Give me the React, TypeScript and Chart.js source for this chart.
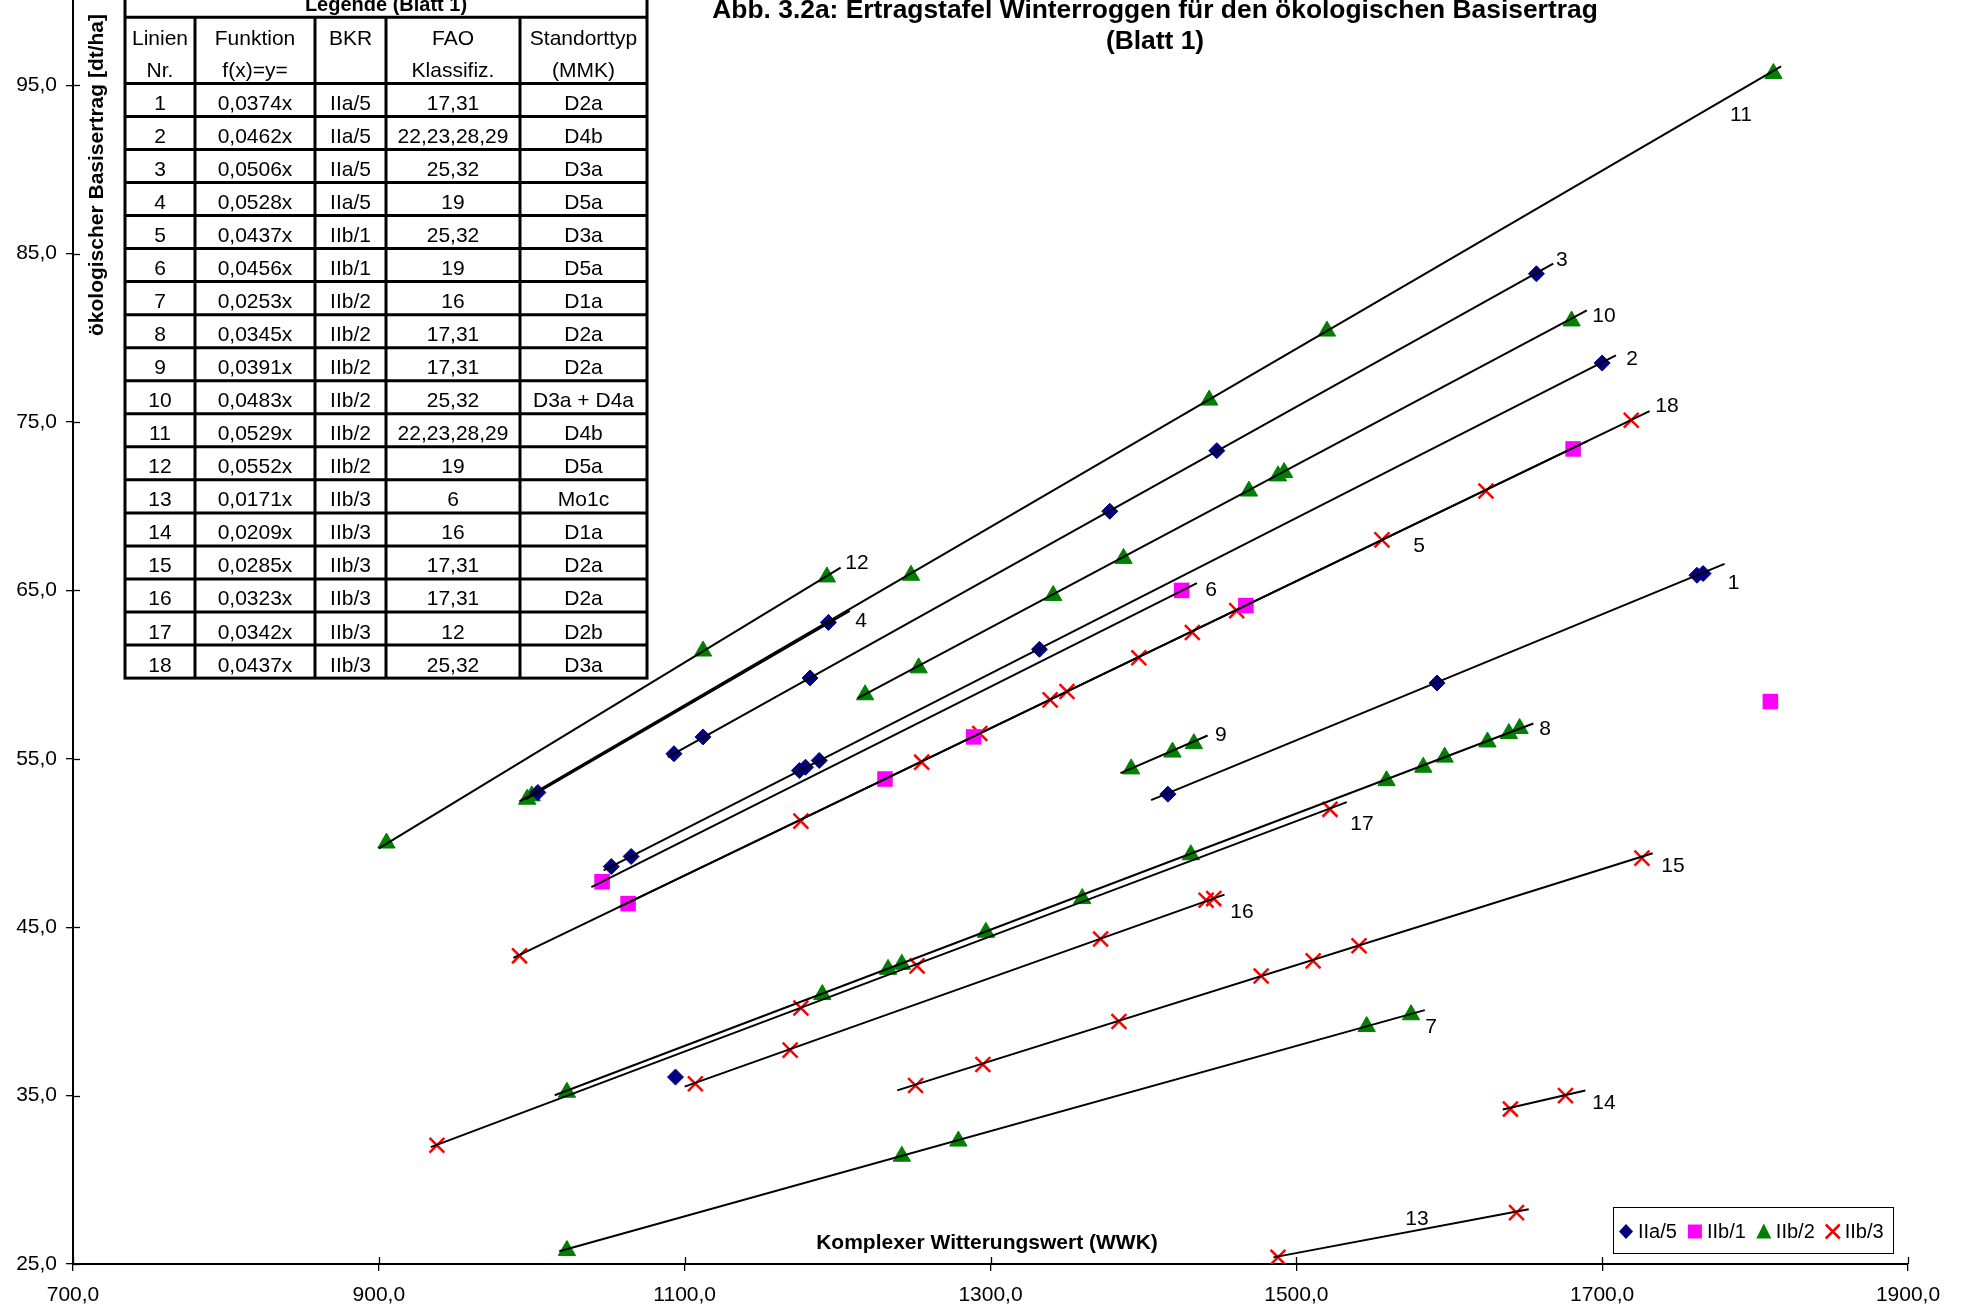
import React, { useEffect, useRef } from 'react';
import { Chart, registerables } from 'chart.js';

Chart.register(...registerables);

const FONT = "'Liberation Sans', Arial, Helvetica, sans-serif";

// ---------- texts ----------
const titleLine1 = 'Abb. 3.2a: Ertragstafel Winterroggen für den ökologischen Basisertrag';
const titleLine2 = '(Blatt 1)';
const xAxisTitle = 'Komplexer Witterungswert (WWK)';
const yAxisTitle = 'ökologischer Basisertrag [dt/ha]';
const tableTitle = 'Legende (Blatt 1)';

// ---------- axes ----------
const xTicks = [700, 900, 1100, 1300, 1500, 1700, 1900];
const yTicks = [25, 35, 45, 55, 65, 75, 85, 95];

// ---------- series (points) ----------
const seriesNames = ['IIa/5', 'IIb/1', 'IIb/2', 'IIb/3'];

const iia5X = [1004, 1194, 1093, 1112, 1182, 1378, 1448, 1657, 1052, 1065, 1175, 1179, 1188, 1332, 1700, 1416, 1592, 1762, 1766, 1094];
const iia5Y = [53.0, 63.1, 55.3, 56.3, 59.8, 69.7, 73.3, 83.8, 48.6, 49.2, 54.3, 54.5, 54.9, 61.5, 78.5, 52.9, 59.5, 65.9, 66.0, 36.1];

const iib1X = [1046, 1425, 1063, 1231, 1289, 1467, 1681, 1810];
const iib1Y = [47.7, 65.0, 46.4, 53.8, 56.3, 64.1, 73.4, 58.4];

const iib2X = [905, 1112, 1193, 997, 1000, 1248, 1443, 1520, 1812, 1218, 1253, 1341, 1387, 1469, 1488, 1492, 1680, 1392, 1419, 1433, 1023, 1190, 1233, 1242, 1297, 1360, 1431, 1559, 1583, 1597, 1625, 1639, 1646, 1023, 1242, 1279, 1546, 1575];
const iib2Y = [50.0, 61.4, 65.8, 52.6, 52.8, 65.9, 76.3, 80.4, 95.7, 58.8, 60.4, 64.7, 66.9, 70.9, 71.8, 72.0, 81.0, 54.4, 55.4, 55.9, 35.2, 41.0, 42.5, 42.8, 44.7, 46.7, 49.3, 53.7, 54.5, 55.1, 56.0, 56.5, 56.8, 25.8, 31.4, 32.3, 39.1, 39.8];

const iib3X = [992, 1176, 1255, 1293, 1339, 1350, 1397, 1432, 1461, 1556, 1624, 1719, 938, 1176, 1252, 1522, 1107, 1169, 1372, 1441, 1446, 1251, 1295, 1384, 1477, 1511, 1541, 1726, 1640, 1676, 1488, 1644];
const iib3Y = [43.3, 51.3, 54.8, 56.5, 58.5, 59.0, 61.0, 62.5, 63.8, 68.0, 70.9, 75.1, 32.05, 40.2, 42.7, 52.0, 35.7, 37.7, 44.3, 46.6, 46.7, 35.6, 36.85, 39.4, 42.1, 43.0, 43.9, 49.1, 34.2, 35.0, 25.4, 28.05];

// ---------- legend table / regression lines ----------
const lineNr = ['1', '2', '3', '4', '5', '6', '7', '8', '9', '10', '11', '12', '13', '14', '15', '16', '17', '18'];
const lineFunction = ['0,0374x', '0,0462x', '0,0506x', '0,0528x', '0,0437x', '0,0456x', '0,0253x', '0,0345x', '0,0391x', '0,0483x', '0,0529x', '0,0552x', '0,0171x', '0,0209x', '0,0285x', '0,0323x', '0,0342x', '0,0437x'];
const lineBKR = ['IIa/5', 'IIa/5', 'IIa/5', 'IIa/5', 'IIb/1', 'IIb/1', 'IIb/2', 'IIb/2', 'IIb/2', 'IIb/2', 'IIb/2', 'IIb/2', 'IIb/3', 'IIb/3', 'IIb/3', 'IIb/3', 'IIb/3', 'IIb/3'];
const lineFAO = ['17,31', '22,23,28,29', '25,32', '19', '25,32', '19', '16', '17,31', '17,31', '25,32', '22,23,28,29', '19', '6', '16', '17,31', '17,31', '12', '25,32'];
const lineMMK = ['D2a', 'D4b', 'D3a', 'D5a', 'D3a', 'D5a', 'D1a', 'D2a', 'D2a', 'D3a + D4a', 'D4b', 'D5a', 'Mo1c', 'D1a', 'D2a', 'D2a', 'D2b', 'D3a'];
const tableHeader1 = ['Linien', 'Funktion', 'BKR', 'FAO', 'Standorttyp'];
const tableHeader2 = ['Nr.', 'f(x)=y=', '', 'Klassifiz.', '(MMK)'];

// x-range over which each regression line is drawn
const lineXStart = [1405, 1047, 1089, 996, 1057, 1039, 1018, 1015, 1385, 1213, 992, 900, 1485, 1635, 1239, 1100, 934, 988];
const lineXEnd = [1780, 1709, 1668, 1208, 1690, 1435, 1584, 1655, 1442, 1690, 1817, 1202, 1652, 1689, 1733, 1453, 1533, 1731];
// where each line number is written (data units)
const lineLabelX = [1786, 1719.5, 1673.7, 1215.3, 1580.2, 1444.2, 1588.1, 1662.6, 1450.7, 1701.2, 1790.8, 1212.7, 1578.9, 1701.2, 1746.3, 1464.5, 1542.9, 1742.4];
const lineLabelY = [65.45, 78.75, 84.63, 63.2, 67.6, 65.0, 39.04, 56.73, 56.43, 81.3, 93.24, 66.64, 27.64, 34.53, 48.6, 45.92, 51.09, 75.96];

const slopes = lineFunction.map((f) => parseFloat(f.replace('x', '').replace(',', '.')));

const NAVY = '#000080';
const MAGENTA = '#FF00FF';
const GREEN = '#008000';
const RED = '#FF0000';

const fmt = (v: number) => Number(v).toFixed(1).replace('.', ',');
const pts = (xs: number[], ys: number[]) => xs.map((x, i) => ({ x, y: ys[i] }));

function drawMarker(ctx: CanvasRenderingContext2D, kind: number, x: number, y: number) {
  ctx.save();
  if (kind === 0) {
    ctx.fillStyle = NAVY;
    ctx.beginPath();
    ctx.moveTo(x, y - 7.5);
    ctx.lineTo(x + 7, y);
    ctx.lineTo(x, y + 7.5);
    ctx.lineTo(x - 7, y);
    ctx.closePath();
    ctx.fill();
  } else if (kind === 1) {
    ctx.fillStyle = MAGENTA;
    ctx.fillRect(x - 7, y - 7, 14, 14);
  } else if (kind === 2) {
    ctx.fillStyle = GREEN;
    ctx.beginPath();
    ctx.moveTo(x, y - 8);
    ctx.lineTo(x + 7.5, y + 7);
    ctx.lineTo(x - 7.5, y + 7);
    ctx.closePath();
    ctx.fill();
  } else {
    ctx.strokeStyle = RED;
    ctx.lineWidth = 2.5;
    ctx.beginPath();
    ctx.moveTo(x - 7, y - 7);
    ctx.lineTo(x + 7, y + 7);
    ctx.moveTo(x + 7, y - 7);
    ctx.lineTo(x - 7, y + 7);
    ctx.stroke();
  }
  ctx.restore();
}

const overlayPlugin = {
  id: 'overlay',
  afterDraw(chart: any) {
    const ctx: CanvasRenderingContext2D = chart.ctx;
    const { left, bottom } = chart.chartArea;
    const xs = chart.scales.x;
    const ys = chart.scales.y;
    ctx.save();

    // inner halves of the crossing tick marks
    ctx.strokeStyle = '#000';
    ctx.lineWidth = 1.3;
    xTicks.forEach((v) => {
      const px = Math.round(xs.getPixelForValue(v)) + 0.5;
      ctx.beginPath();
      ctx.moveTo(px, bottom);
      ctx.lineTo(px, bottom - 7);
      ctx.stroke();
    });
    yTicks.forEach((v) => {
      const py = Math.round(ys.getPixelForValue(v)) + 0.5;
      ctx.beginPath();
      ctx.moveTo(left, py);
      ctx.lineTo(left + 7, py);
      ctx.stroke();
    });

    // line numbers
    ctx.fillStyle = '#000';
    ctx.font = `21px ${FONT}`;
    ctx.textAlign = 'center';
    ctx.textBaseline = 'middle';
    lineNr.forEach((n, i) => {
      ctx.fillText(n, xs.getPixelForValue(lineLabelX[i]), ys.getPixelForValue(lineLabelY[i]));
    });

    // title
    ctx.font = `bold 26.4px ${FONT}`;
    ctx.textBaseline = 'alphabetic';
    ctx.fillText(titleLine1, 1155, 17.5);
    ctx.fillText(titleLine2, 1155, 48.5);

    // axis titles
    ctx.font = `bold 21px ${FONT}`;
    ctx.textBaseline = 'middle';
    ctx.fillText(xAxisTitle, 987, 1243);
    ctx.save();
    ctx.translate(97, 175);
    ctx.rotate(-Math.PI / 2);
    ctx.fillText(yAxisTitle, 0, 0);
    ctx.restore();

    // legend table
    const colX = [125, 195, 315, 386, 520, 647];
    const rowH = 33.04;
    const hdrTop = 17.3;
    const dataTop = hdrTop + 2 * rowH;
    const tblTop = hdrTop - rowH;
    const tblBottom = dataTop + 18 * rowH;
    ctx.fillStyle = '#fff';
    ctx.fillRect(colX[0], tblTop, colX[5] - colX[0], tblBottom - tblTop);
    ctx.strokeStyle = '#000';
    ctx.lineWidth = 3;
    ctx.strokeRect(colX[0], tblTop, colX[5] - colX[0], tblBottom - tblTop);
    ctx.beginPath();
    ctx.moveTo(colX[0], hdrTop);
    ctx.lineTo(colX[5], hdrTop);
    for (let r = 0; r < 18; r++) {
      const y = dataTop + r * rowH;
      ctx.moveTo(colX[0], y);
      ctx.lineTo(colX[5], y);
    }
    for (let c = 1; c < 5; c++) {
      ctx.moveTo(colX[c], hdrTop);
      ctx.lineTo(colX[c], tblBottom);
    }
    ctx.stroke();

    ctx.fillStyle = '#000';
    ctx.textAlign = 'center';
    ctx.textBaseline = 'alphabetic';
    ctx.font = `bold 20px ${FONT}`;
    ctx.fillText(tableTitle, (colX[0] + colX[5]) / 2, hdrTop - 6);
    ctx.font = `21px ${FONT}`;
    const cx = (c: number) => (colX[c] + colX[c + 1]) / 2;
    for (let c = 0; c < 5; c++) {
      ctx.fillText(tableHeader1[c], cx(c), hdrTop + 27.5);
      if (tableHeader2[c]) ctx.fillText(tableHeader2[c], cx(c), hdrTop + rowH + 26.5);
    }
    const cols = [lineNr, lineFunction, lineBKR, lineFAO, lineMMK];
    for (let r = 0; r < 18; r++) {
      const by = dataTop + r * rowH + 26.5;
      for (let c = 0; c < 5; c++) ctx.fillText(cols[c][r], cx(c), by);
    }

    // series legend (bottom right)
    const lgX = 1613, lgY = 1207, lgW = 280, lgH = 46;
    ctx.fillStyle = '#fff';
    ctx.fillRect(lgX, lgY, lgW, lgH);
    ctx.strokeStyle = '#000';
    ctx.lineWidth = 1;
    ctx.strokeRect(lgX + 0.5, lgY + 0.5, lgW, lgH);
    ctx.font = `20px ${FONT}`;
    ctx.textAlign = 'left';
    ctx.textBaseline = 'alphabetic';
    let mx = lgX + 13;
    const my = lgY + 24.5;
    seriesNames.forEach((name, k) => {
      drawMarker(ctx, k, mx, my);
      const tx = mx + 12;
      ctx.fillStyle = '#000';
      ctx.fillText(name, tx, my + 6.5);
      mx = tx + ctx.measureText(name).width + 18;
    });

    ctx.restore();
  },
};

export default function App() {
  const ref = useRef<HTMLCanvasElement>(null);

  useEffect(() => {
    const canvas = ref.current;
    if (!canvas) return;

    const lineDatasets = slopes.map((m, i) => ({
      label: 'Linie ' + lineNr[i],
      data: [
        { x: lineXStart[i], y: m * lineXStart[i] },
        { x: lineXEnd[i], y: m * lineXEnd[i] },
      ],
      showLine: true,
      borderColor: '#000',
      borderWidth: 2,
      pointRadius: 0,
      fill: false,
    }));

    const pointDatasets = [
      { label: seriesNames[0], data: pts(iia5X, iia5Y), pointStyle: 'rectRot', pointRadius: 8, backgroundColor: NAVY, borderColor: NAVY, borderWidth: 1 },
      { label: seriesNames[1], data: pts(iib1X, iib1Y), pointStyle: 'rect', pointRadius: 11, backgroundColor: MAGENTA, borderColor: MAGENTA, borderWidth: 0 },
      { label: seriesNames[2], data: pts(iib2X, iib2Y), pointStyle: 'triangle', pointRadius: 10, backgroundColor: GREEN, borderColor: GREEN, borderWidth: 1 },
      { label: seriesNames[3], data: pts(iib3X, iib3Y), pointStyle: 'crossRot', pointRadius: 10.5, backgroundColor: RED, borderColor: RED, borderWidth: 2.5 },
    ].map((d) => ({ ...d, showLine: false, pointHoverRadius: d.pointRadius }));

    const chart = new Chart(canvas, {
      type: 'scatter',
      data: { datasets: [...lineDatasets, ...pointDatasets] as any },
      options: {
        animation: false,
        responsive: false,
        maintainAspectRatio: false,
        devicePixelRatio: 1,
        events: [],
        layout: { padding: { top: 1, right: 58, left: 0, bottom: 0 }, autoPadding: false },
        plugins: {
          legend: { display: false },
          tooltip: { enabled: false },
          title: { display: false },
        },
        scales: {
          x: {
            type: 'linear',
            min: 700,
            max: 1900,
            afterBuildTicks: (s: any) => {
              s.ticks = xTicks.map((value) => ({ value }));
            },
            afterFit: (s: any) => {
              s.height = 44;
              s.paddingLeft = 0;
              s.paddingRight = 0;
            },
            ticks: {
              callback: (v: any) => fmt(v),
              font: { family: FONT, size: 21 },
              color: '#000',
              padding: 12,
              maxRotation: 0,
              autoSkip: false,
            },
            grid: { drawOnChartArea: false, drawTicks: true, tickLength: 7, color: '#000', lineWidth: 1.3 },
            border: { display: true, color: '#000', width: 2 },
          },
          y: {
            type: 'linear',
            min: 25,
            max: 100,
            afterBuildTicks: (s: any) => {
              s.ticks = yTicks.map((value) => ({ value }));
            },
            afterFit: (s: any) => {
              s.width = 73;
              s.paddingTop = 0;
              s.paddingBottom = 0;
            },
            ticks: {
              callback: (v: any) => fmt(v),
              font: { family: FONT, size: 21 },
              color: '#000',
              padding: 9,
              autoSkip: false,
            },
            grid: { drawOnChartArea: false, drawTicks: true, tickLength: 7, color: '#000', lineWidth: 1.3 },
            border: { display: true, color: '#000', width: 2 },
          },
        },
      } as any,
      plugins: [overlayPlugin],
    });

    return () => chart.destroy();
  }, []);

  return (
    <div style={{ position: 'absolute', left: 0, top: 0, width: 1966, height: 1308, background: '#fff' }}>
      <canvas ref={ref} width={1966} height={1308} style={{ display: 'block', width: 1966, height: 1308 }} />
    </div>
  );
}
